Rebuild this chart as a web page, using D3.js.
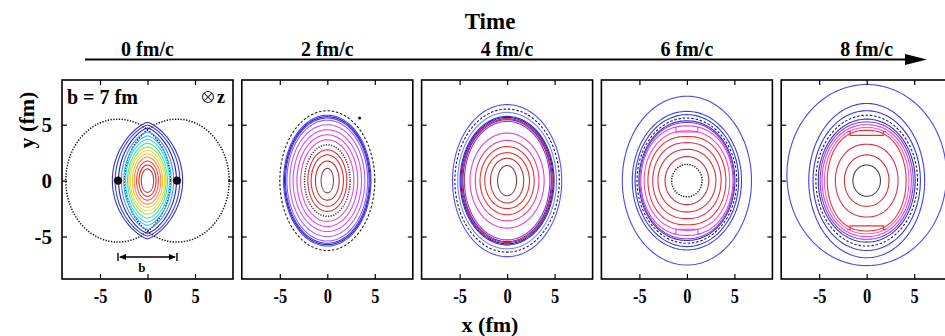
<!DOCTYPE html>
<html lang="en">
<head>
    <meta charset="UTF-8">
    <title>Time evolution of contours</title>
    <script src="https://d3js.org/d3.v7.min.js"></script>
    <style>
        body { margin: 0; background: #fff; }
        text {
            font-family: 'Liberation Serif', 'Times New Roman', serif;
            font-weight: bold;
            fill: #000;
        }
    </style>
</head>
<body>

<script>
    const width  = 945;
    const height = 336;

    const xDomain = [-9, 9];
    const yDomain = [-8.8, 9];
    const tickValues = [-5, 0, 5];
    const timeLabels = ["0 fm/c", "2 fm/c", "4 fm/c", "6 fm/c", "8 fm/c"];

    // contour rows: [half width (fm), half height (fm), shape exponent, y offset, colour, style]
    // shape 0.5 = ellipse, > 0.5 = lens, < 0.5 = boxy
    const contours0 = [
        [3.7, 5.2, 0.72, 0, "#3535b8", "solid"],
        [3.4, 4.95, 0.7, 0, "#3a3af0", "solid"],
        [3.05, 4.7, 0.7, 0, "#2222a0", "solid"],
        [2.75, 4.35, 0.66, 0, "#4a8cff", "solid"],
        [2.5, 4.0, 0.64, 0, "#30b4ff", "solid"],
        [2.3, 3.7, 0.62, 0, "#30d8e8", "solid"],
        [2.1, 3.35, 0.6, 0, "#50e0a8", "solid"],
        [1.95, 3.0, 0.58, 0, "#a8e050", "solid"],
        [1.8, 2.7, 0.56, 0, "#e8e040", "solid"],
        [1.6, 2.4, 0.55, 0, "#ffc040", "solid"],
        [1.4, 2.1, 0.54, 0, "#ff8a40", "solid"],
        [1.15, 1.75, 0.52, 0, "#ff4a40", "solid"],
        [0.9, 1.4, 0.5, 0, "#e02020", "solid"],
        [0.65, 1.05, 0.5, 0, "#a04848", "solid"]
    ];
    const contours1 = [
        [5.0, 6.25, 0.5, 0, "#222", "dash"],
        [4.6, 5.85, 0.5, 0, "#4848ff", "solid"],
        [4.5, 5.72, 0.5, 0, "#2020c0", "solid"],
        [4.4, 5.6, 0.5, 0, "#6030d0", "solid"],
        [4.25, 5.4, 0.5, 0, "#8060ff", "solid"],
        [3.95, 5.0, 0.5, 0, "#b060ff", "solid"],
        [3.6, 4.55, 0.5, 0, "#d050f0", "solid"],
        [3.2, 4.1, 0.5, 0, "#e040e0", "solid"],
        [2.8, 3.65, 0.5, 0, "#e050c0", "solid"],
        [2.4, 3.2, 0.5, 0, "#444", "dot"],
        [2.05, 2.75, 0.5, 0, "#e03040", "solid"],
        [1.7, 2.3, 0.5, 0, "#e03030", "solid"],
        [1.25, 1.75, 0.5, 0, "#c03030", "solid"],
        [0.65, 1.1, 0.5, 0, "#904848", "solid"]
    ];
    const contours2 = [
        [5.75, 6.8, 0.5, 0, "#5050ff", "solid"],
        [5.5, 6.4, 0.5, 0, "#222", "dash"],
        [5.2, 6.1, 0.5, 0, "#8080ff", "solid"],
        [4.95, 5.75, 0.5, 0, "#3030e0", "solid"],
        [4.85, 5.65, 0.5, 0, "#2020b0", "solid"],
        [4.75, 5.55, 0.5, 0, "#e02030", "solid"],
        [4.65, 5.45, 0.5, 0, "#6020c0", "solid"],
        [4.5, 5.3, 0.5, 0, "#a030d0", "solid"],
        [3.9, 4.25, 0.5, 0, "#e040e0", "solid"],
        [3.35, 3.6, 0.5, 0, "#e040a0", "solid"],
        [2.85, 3.05, 0.5, 0, "#f03030", "solid"],
        [2.35, 2.5, 0.5, 0, "#e03030", "solid"],
        [1.75, 2.0, 0.5, 0, "#c03030", "solid"],
        [1.0, 1.35, 0.5, 0, "#804040", "solid"]
    ];
    const contours3 = [
        [6.8, 7.55, 0.5, 0, "#4848f0", "solid"],
        [5.75, 6.2, 0.5, 0, "#4040e8", "solid"],
        [5.45, 5.9, 0.5, 0, "#3838e0", "solid"],
        [5.25, 5.6, 0.5, 0, "#222", "dash"],
        [5.05, 5.35, 0.48, 0, "#3030d0", "solid"],
        [4.95, 5.2, 0.47, 0, "#8040e0", "solid"],
        [4.85, 4.9, 0.45, 0, "#e040e0", "solid"],
        [4.5, 4.45, 0.44, 0, "#f050d0", "solid"],
        [4.1, 3.95, 0.42, 0, "#f03030", "solid"],
        [3.6, 3.4, 0.44, 0, "#e03050", "solid"],
        [3.05, 2.8, 0.47, 0, "#e03030", "solid"],
        [2.3, 2.15, 0.5, 0, "#c03040", "solid"],
        [1.6, 1.45, 0.5, 0, "#222", "dot"]
    ];
    const contours4 = [
        [8.4, 8.1, 0.5, 0.5, "#4848f0", "solid"],
        [6.1, 6.9, 0.5, 0, "#4040e8", "solid"],
        [5.65, 6.25, 0.5, 0, "#3838e0", "solid"],
        [5.35, 5.85, 0.5, 0, "#222", "dash"],
        [5.1, 5.5, 0.49, 0, "#3030d0", "solid"],
        [4.9, 5.25, 0.47, 0, "#8040e0", "solid"],
        [4.7, 5.0, 0.46, 0, "#e040e0", "solid"],
        [4.45, 4.75, 0.45, 0, "#f060d0", "solid"],
        [4.15, 4.5, 0.42, 0, "#f03030", "solid"],
        [3.3, 3.25, 0.45, 0, "#e03050", "solid"],
        [2.35, 2.3, 0.48, 0, "#d03030", "solid"],
        [1.45, 1.4, 0.5, 0, "#444", "solid"]
    ];
    const panelContours = [contours0, contours1, contours2, contours3, contours4];

    // step-like kinks at top and bottom of the boxy contours: [panel, half width, level, depth, colour]
    const notches = [
        [3, 1.15, 4.75, 0.4, "#e040e0"],
        [4, 1.75, 4.4, 0.35, "#f03030"]
    ];

    // first panel: colliding nuclei
    const nucleusX = [-3.1, 3.1];
    const nucleusR = 5.5;
    const strayDot = [3.4, 5.6];   // small dot in panel 2

    const dashes = { solid: null, dash: "2.5,1.8", dot: "1.3,1.3" };
    const angles = d3.range(0, 2 * Math.PI, Math.PI / 90);

    const svg = d3.select("body")
                  .append("svg").attr("width", width).attr("height", height);

    const panelTop = 80, panelBottom = 279, panelW = 171;

    panelContours.forEach((contours, i) => drawPanel(contours, i));

    function shapePath(c, x, y) {
        const [a, b, p, cy] = c;
        return d3.line()
                 .x(t => x(a * Math.sign(Math.cos(t)) * Math.pow(Math.abs(Math.cos(t)), 2 * p)))
                 .y(t => y(cy + b * Math.sin(t)))
                 .curve(d3.curveLinearClosed)(angles);
    }

    function drawPanel(contours, i) {
        const x0 = 62 + i * 179.8;
        const x = d3.scaleLinear().domain(xDomain).range([x0, x0 + panelW]);
        const y = d3.scaleLinear().domain(yDomain).range([panelBottom, panelTop]);

        svg.append("clipPath").attr("id", "clip" + i)
           .append("rect").attr("x", x0).attr("y", panelTop)
           .attr("width", panelW).attr("height", panelBottom - panelTop);

        const g = svg.append("g").attr("clip-path", "url(#clip" + i + ")");

        if (i === 0) {
            nucleusX.forEach(cx => {
                g.append("ellipse")
                 .attr("cx", x(cx)).attr("cy", y(0))
                 .attr("rx", x(nucleusR) - x(0)).attr("ry", y(0) - y(nucleusR))
                 .attr("fill", "none").attr("stroke", "#111")
                 .attr("stroke-width", 1.5).attr("stroke-dasharray", "1.3,1.5");
            });
        }

        g.selectAll("path.contour")
         .data(contours)
         .join("path")
         .attr("class", "contour")
         .attr("d", c => shapePath(c, x, y))
         .attr("fill", "none")
         .attr("stroke", c => c[4])
         .attr("stroke-width", c => c[5] === "dot" ? 1.5 : 1.1)
         .attr("stroke-dasharray", c => dashes[c[5]]);

        notches.filter(n => n[0] === i).forEach(n => {
            const [, hw, lv, dp, col] = n;
            [1, -1].forEach(s => {
                const pts = [[-hw - 0.3, lv], [-hw, lv], [-hw, lv - dp], [hw, lv - dp], [hw, lv], [hw + 0.3, lv]];
                g.append("path")
                 .attr("d", d3.line().x(q => x(q[0])).y(q => y(s * q[1]))(pts))
                 .attr("fill", "none").attr("stroke", col).attr("stroke-width", 1.1);
            });
        });

        if (i === 0) {
            nucleusX.forEach(cx => {
                g.append("circle").attr("cx", x(cx)).attr("cy", y(0)).attr("r", 4.2).attr("fill", "#111");
            });
        }
        if (i === 1) {
            g.append("circle").attr("cx", x(strayDot[0])).attr("cy", y(strayDot[1]))
             .attr("r", 1.5).attr("fill", "#111");
        }

        // inward ticks on all sides
        const fmt = d => String(d);
        const xb = svg.append("g").attr("transform", "translate(0," + panelBottom + ")")
                      .call(d3.axisBottom(x).tickValues(tickValues).tickSize(-5).tickPadding(9).tickFormat(fmt));
        svg.append("g").attr("transform", "translate(0," + panelTop + ")")
           .call(d3.axisTop(x).tickValues(tickValues).tickSize(-5).tickFormat(""));
        const yl = svg.append("g").attr("transform", "translate(" + x0 + ",0)")
                      .call(d3.axisLeft(y).tickValues(tickValues).tickSize(-5)
                              .tickFormat(i === 0 ? fmt : ""));
        svg.append("g").attr("transform", "translate(" + (x0 + panelW) + ",0)")
           .call(d3.axisRight(y).tickValues(tickValues).tickSize(-5).tickFormat(""));

        svg.selectAll(".domain").remove();
        svg.selectAll(".tick line").attr("stroke", "#000").attr("stroke-width", 1.2);
        xb.selectAll("text").attr("font-size", 21).attr("transform", "scale(0.78,1)")
          .attr("font-family", "Liberation Serif").attr("font-weight", "bold").attr("fill", "#000");
        yl.selectAll("text").attr("font-size", 21).attr("x", -10)
          .attr("font-family", "Liberation Serif").attr("font-weight", "bold").attr("fill", "#000");

        svg.append("rect")
           .attr("x", x0).attr("y", panelTop).attr("width", panelW).attr("height", panelBottom - panelTop)
           .attr("fill", "none").attr("stroke", "#000").attr("stroke-width", 1.6);

        // time label above the panel
        svg.append("text")
           .attr("x", x(0)).attr("y", 56)
           .attr("text-anchor", "middle").attr("font-size", 20)
           .text(timeLabels[i]);

        if (i === 0) {
            svg.append("text").attr("x", x0 + 5).attr("y", 104).attr("font-size", 20).text("b = 7 fm");
            const ox = x0 + 146, oy = 97;
            svg.append("circle").attr("cx", ox).attr("cy", oy).attr("r", 5.5)
               .attr("fill", "none").attr("stroke", "#333").attr("stroke-width", 1.2);
            svg.append("path")
               .attr("d", "M" + (ox - 3.9) + "," + (oy - 3.9) + "L" + (ox + 3.9) + "," + (oy + 3.9) +
                          "M" + (ox + 3.9) + "," + (oy - 3.9) + "L" + (ox - 3.9) + "," + (oy + 3.9))
               .attr("stroke", "#333").attr("stroke-width", 1.1);
            svg.append("text").attr("x", ox + 9).attr("y", 103).attr("font-size", 18).text("z");

            // impact parameter arrow
            const ay = 257, ax1 = x(nucleusX[0]), ax2 = x(nucleusX[1]);
            svg.append("line").attr("x1", ax1 + 2).attr("x2", ax2 - 2).attr("y1", ay).attr("y2", ay)
               .attr("stroke", "#000").attr("stroke-width", 1.3);
            [ax1, ax2].forEach((ax, k) => {
                svg.append("line").attr("x1", ax).attr("x2", ax).attr("y1", ay - 4).attr("y2", ay + 4)
                   .attr("stroke", "#000").attr("stroke-width", 1.4);
                const s = k === 0 ? 1 : -1;
                svg.append("path")
                   .attr("d", "M" + (ax + s) + "," + ay + "L" + (ax + s * 8) + "," + (ay - 3) +
                              "L" + (ax + s * 8) + "," + (ay + 3) + "Z")
                   .attr("fill", "#000");
            });
            svg.append("text").attr("x", x(-0.6)).attr("y", 272).attr("text-anchor", "middle")
               .attr("font-size", 13).text("b");
        }
    }

    // time arrow
    svg.append("line").attr("x1", 85).attr("x2", 910).attr("y1", 59.5).attr("y2", 59.5)
       .attr("stroke", "#000").attr("stroke-width", 2);
    svg.append("path").attr("d", "M927,59.5L905,54L905,65Z").attr("fill", "#000");
    svg.append("text").attr("x", 490).attr("y", 29).attr("text-anchor", "middle")
       .attr("font-size", 23).text("Time");

    // axis titles
    svg.append("text").attr("x", 490).attr("y", 332).attr("text-anchor", "middle")
       .attr("font-size", 22).text("x (fm)");
    svg.append("text").attr("transform", "translate(34,120) rotate(-90)")
       .attr("text-anchor", "middle").attr("font-size", 22).text("y (fm)");
</script>

</body>
</html>
